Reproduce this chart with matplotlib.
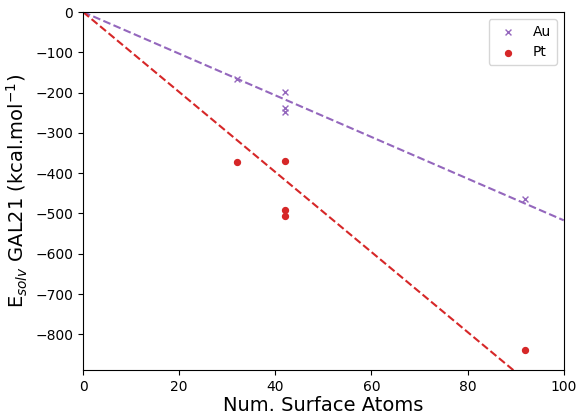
import numpy as np
import matplotlib
matplotlib.use("Agg")
from matplotlib import pyplot as plt

au_x = [32, 42, 42, 42, 92]
au_y = [-165, -198, -237, -248, -465]
pt_x = [32, 42, 42, 42, 92]
pt_y = [-372, -369, -492, -506, -839]
au_slope = -5.17
pt_slope = -9.93

fig = plt.figure(figsize=(5.77, 4.15), dpi=100)
ax = fig.add_subplot(1, 1, 1)
fig.subplots_adjust(left=0.144, right=0.977, top=0.971, bottom=0.108)

xs = np.array([0, 100])
ax.scatter(au_x, au_y, marker="x", s=18, color="tab:purple", linewidths=1, label="Au")
ax.scatter(pt_x, pt_y, marker="o", s=18, color="tab:red", label="Pt")
ax.plot(xs, au_slope * xs, "--", color="tab:purple")
ax.plot(xs, pt_slope * xs, "--", color="tab:red")

ax.set_xlim(0, 100)
ax.set_ylim(-889, 0)
ax.set_xlabel("Num. Surface Atoms", fontsize=14, labelpad=1.5)
ax.set_ylabel("E$_{solv}$ GAL21 (kcal.mol$^{-1}$)", fontsize=14)
ax.legend(loc="upper right")

fig.savefig("out.png", dpi=100)
